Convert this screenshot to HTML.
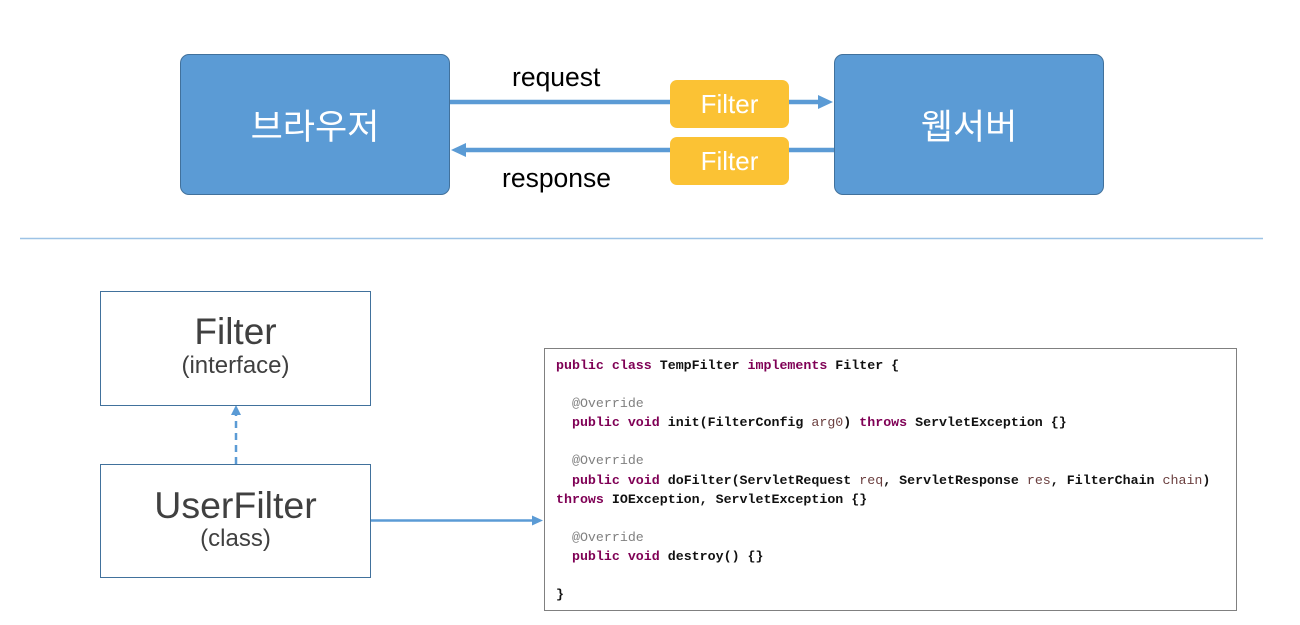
<!DOCTYPE html>
<html><head><meta charset="utf-8"><style>
body{margin:0;width:1300px;height:625px;background:#fff;position:relative;overflow:hidden;font-family:"Liberation Sans","Noto Sans CJK KR",sans-serif}
.a{position:absolute;box-sizing:border-box}
.blue{background:#5b9bd5;border:1.5px solid #41719c;border-radius:9px;color:#fff;font-size:35px;display:flex;align-items:center;justify-content:center}
.filt{background:#fbc234;border-radius:7px;color:#fff;font-size:26px;display:flex;align-items:center;justify-content:center}
.lbl{font-size:26.5px;color:#000}
.wb{border:1.5px solid #41719c;background:#fff;text-align:center;color:#404040}
.code{border:1px solid #808080;font-family:"Liberation Mono",monospace;font-size:13.3px;line-height:19.1px;padding:7px 0 0 11px;white-space:pre;font-weight:bold;color:#111}
.k{color:#7f0055}.c{color:#808080;font-weight:normal}.v{color:#6a3e3e;font-weight:normal}
</style></head><body>
<div class="a blue" style="left:180px;top:54px;width:270px;height:141px">브라우저</div>
<div class="a blue" style="left:834px;top:54px;width:270px;height:141px">웹서버</div>
<div class="a filt" style="left:670px;top:80px;width:119px;height:48px">Filter</div>
<div class="a filt" style="left:670px;top:137px;width:119px;height:48px">Filter</div>
<div class="a lbl" style="left:512px;top:62px">request</div>
<div class="a lbl" style="left:502px;top:163px">response</div>
<svg class="a" style="left:0;top:0" width="1300" height="625">
<line x1="450" y1="102" x2="670" y2="102" stroke="#5b9bd5" stroke-width="4.5"/>
<line x1="789" y1="102" x2="820" y2="102" stroke="#5b9bd5" stroke-width="4.5"/>
<polygon points="818,95 833,102 818,109" fill="#5b9bd5"/>
<line x1="834" y1="150" x2="789" y2="150" stroke="#5b9bd5" stroke-width="4.5"/>
<line x1="670" y1="150" x2="464" y2="150" stroke="#5b9bd5" stroke-width="4.5"/>
<polygon points="466,143 451,150 466,157" fill="#5b9bd5"/>
<line x1="20" y1="238.5" x2="1263" y2="238.5" stroke="#9dc3e6" stroke-width="1.5"/>
<line x1="236" y1="464" x2="236" y2="414" stroke="#5b9bd5" stroke-width="2.5" stroke-dasharray="7,5"/>
<polygon points="231,415 236,405 241,415" fill="#5b9bd5"/>
<line x1="371" y1="520.5" x2="533" y2="520.5" stroke="#5b9bd5" stroke-width="2.5"/>
<polygon points="532,515.5 543,520.5 532,525.5" fill="#5b9bd5"/>
</svg>
<div class="a wb" style="left:100px;top:291px;width:271px;height:115px;padding-top:20px"><div style="font-size:37px;line-height:40px">Filter</div><div style="font-size:24px;line-height:28px">(interface)</div></div>
<div class="a wb" style="left:100px;top:464px;width:271px;height:114px;padding-top:20px"><div style="font-size:37.5px;line-height:40px">UserFilter</div><div style="font-size:24px;line-height:28px">(class)</div></div>
<div class="a code" style="left:544px;top:348px;width:693px;height:263px"><span class="k">public class</span> TempFilter <span class="k">implements</span> Filter {

  <span class="c">@Override</span>
  <span class="k">public void</span> init(FilterConfig <span class="v">arg0</span>) <span class="k">throws</span> ServletException {}

  <span class="c">@Override</span>
  <span class="k">public void</span> doFilter(ServletRequest <span class="v">req</span>, ServletResponse <span class="v">res</span>, FilterChain <span class="v">chain</span>)
<span class="k">throws</span> IOException, ServletException {}

  <span class="c">@Override</span>
  <span class="k">public void</span> destroy() {}

}</div>
</body></html>
